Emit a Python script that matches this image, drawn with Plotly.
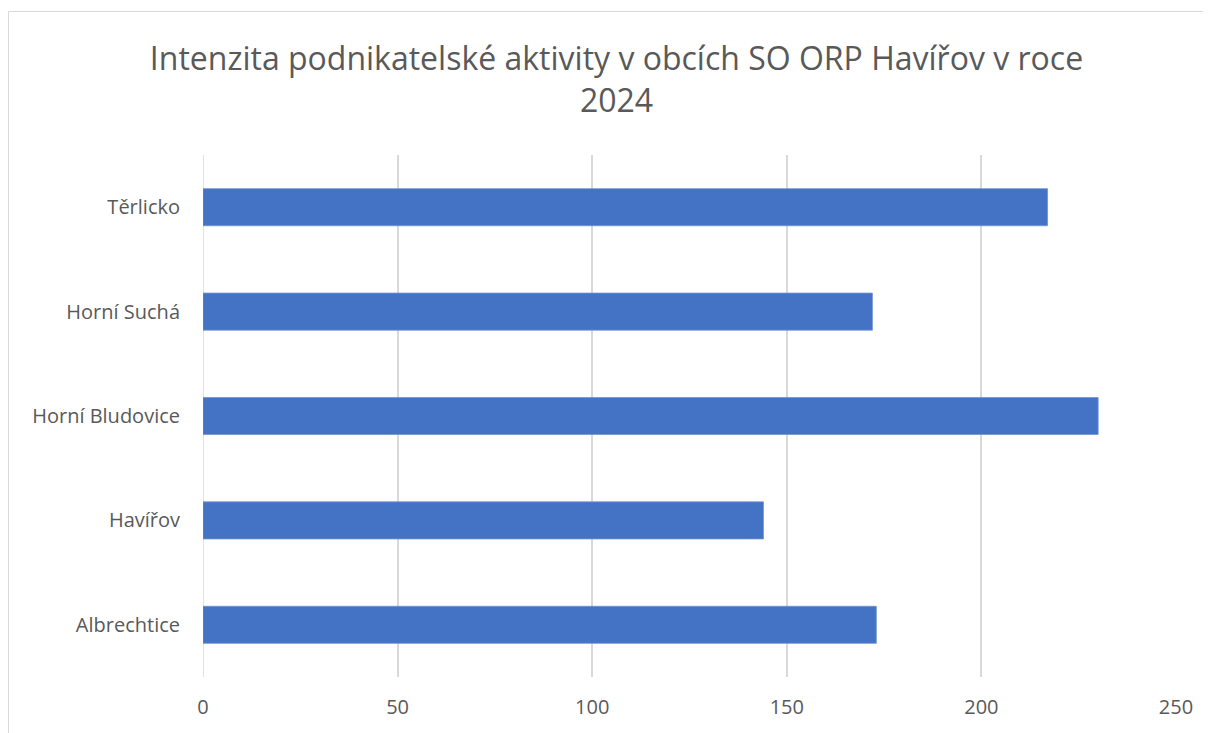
import plotly.graph_objects as go

categories = ["Albrechtice", "Havířov", "Horní Bludovice", "Horní Suchá", "Těrlicko"]
values = [173, 144, 230, 172, 217]
x_ticks = [0, 50, 100, 150, 200, 250]
title_text = "Intenzita podnikatelské aktivity v obcích SO ORP Havířov v roce<br>2024"

OFF = 8  # page body offset
W, H = 1211 - OFF, 733 - OFF
L, R, T, B = 203 - OFF, 35, 155 - OFF, 56
pw, ph = W - L - R, H - T - B

fig = go.Figure()
fig.add_trace(go.Bar(
    y=categories, x=values, orientation="h",
    marker=dict(color="#4472C4", line=dict(color="#6f93d3", width=0.8)),
    hoverinfo="x+y",
))

fig.update_layout(
    width=W, height=H,
    margin=dict(l=L, r=R, t=T, b=B, pad=0),
    paper_bgcolor="white", plot_bgcolor="white",
    bargap=0.645,
    showlegend=False,
    font=dict(family="Open Sans, Lato, sans-serif", color="#595959", size=20),
    title=dict(text=title_text, x=(616.5 - OFF) / W, xanchor="center", xref="container",
               y=1 - (70 - OFF) / H, yanchor="middle", yref="container",
               font=dict(size=32, color="#595959")),
    xaxis=dict(range=[0, 250], tickvals=x_ticks, showgrid=True,
               gridcolor="#d9d9d9", gridwidth=1.5, zeroline=False,
               showline=False, ticks="", ticklabelstandoff=16,
               tickfont=dict(size=20, color="#595959")),
    yaxis=dict(categoryorder="array", categoryarray=categories,
               showgrid=False, zeroline=False, showline=False, ticks="",
               ticklabelstandoff=22, tickfont=dict(size=20, color="#595959")),
)

fig.add_shape(type="line", xref="x", yref="paper", x0=0, x1=0, y0=0, y1=1,
              line=dict(color="#d9d9d9", width=1.5), layer="below")

fig.add_shape(type="rect", xref="paper", yref="paper",
              x0=(8.5 - 203) / pw, x1=(1221 - 203) / pw,
              y0=(677 - 745) / ph, y1=(677 - 11.5) / ph,
              line=dict(color="#d9d9d9", width=1), fillcolor="rgba(0,0,0,0)",
              layer="below")

fig.write_html("out.html")
